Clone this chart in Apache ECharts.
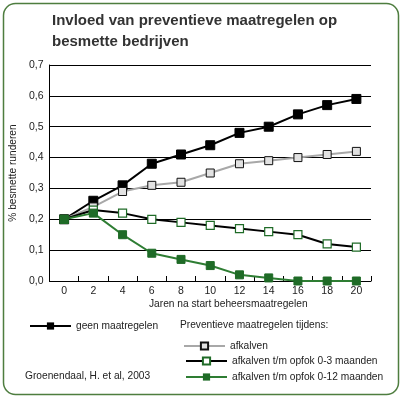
<!DOCTYPE html>
<html><head><meta charset="utf-8">
<script src="https://cdn.jsdelivr.net/npm/echarts@6/dist/echarts.min.js"></script>
<style>html,body{margin:0;padding:0;background:#fff}#c{width:407px;height:399px}</style>
</head><body><div id="c"></div>
<script>
var years = ['0','2','4','6','8','10','12','14','16','18','20'];
var geenMaatregelen = [0.20,0.26,0.31,0.38,0.41,0.44,0.48,0.50,0.54,0.57,0.59];
var afkalven = [0.20,0.24,0.29,0.31,0.32,0.35,0.38,0.39,0.40,0.41,0.42];
var opfok03 = [0.20,0.23,0.22,0.20,0.19,0.18,0.17,0.16,0.15,0.12,0.11];
var opfok012 = [0.20,0.22,0.15,0.09,0.07,0.05,0.02,0.01,0.00,0.00,0.00];
var names = ['geen maatregelen','afkalven','afkalven t/m opfok 0-3 maanden','afkalven t/m opfok 0-12 maanden'];

var FF = 'Liberation Sans';
var FS = 10.2;
var GREEN = '#1f6b27';
var chart = echarts.init(document.getElementById('c'), null, {renderer:'canvas'});
var legendText = {fontFamily: FF, fontSize: FS, color: '#222'};
function leg(name, left, top) {
  return {data:[name], left:left, top:top, orient:'horizontal', itemWidth:41, itemHeight:9, itemGap:5,
    textStyle: legendText, selectedMode:false, padding:0};
}
chart.setOption({
  animation:false,
  textStyle:{fontFamily:FF},
  title:{text:'Invloed van preventieve maatregelen op\nbesmette bedrijven', left:47, top:5,
    textStyle:{fontFamily:FF, fontSize:15, fontWeight:'bold', color:'#333', lineHeight:21}},
  grid:{left:49, right:36, top:65, bottom:118},
  legend:[leg(names[0],29,321), leg(names[1],183,341), leg(names[2],185,356), leg(names[3],185,372)],
  graphic:[
    {type:'rect', shape:{x:3.5,y:3.5,width:395,height:391,r:12}, style:{fill:null, stroke:'#4e7d3f', lineWidth:1.5}, silent:true},
    {type:'text', left:180, top:320, style:{text:'Preventieve maatregelen tijdens:', font:FS+'px '+FF, fill:'#222'}},
    {type:'text', left:25, top:371, style:{text:'Groenendaal, H. et al, 2003', font:FS+'px '+FF, fill:'#222'}},
    {type:'text', left:149, top:299, style:{text:'Jaren na start beheersmaatregelen', font:FS+'px '+FF, fill:'#222'}}
  ],
  xAxis:{type:'category', data:years, boundaryGap:true,
    axisLine:{lineStyle:{color:'#000', width:1}},
    axisTick:{show:true, inside:true, length:5, lineStyle:{color:'#000'}},
    axisLabel:{color:'#222', fontSize:10.5, margin:5, fontFamily:FF}},
  yAxis:{type:'value', min:0, max:0.7, interval:0.1,
    name:'% besmette runderen', nameLocation:'middle', nameGap:24, nameRotate:90,
    nameTextStyle:{fontFamily:FF, fontSize:FS, color:'#222'},
    axisLine:{show:true, lineStyle:{color:'#000', width:1}},
    axisTick:{show:false},
    splitLine:{lineStyle:{color:'#000', width:1}},
    axisLabel:{color:'#222', fontSize:10.5, margin:6, fontFamily:FF,
      formatter:function(v){return v.toFixed(1).replace('.',',');}}},
  series:[
    {name:names[0], type:'line', data:geenMaatregelen, symbol:'rect', symbolSize:9,
      lineStyle:{color:'#000', width:2}, itemStyle:{color:'#000', borderColor:'#000'}},
    {name:names[1], type:'line', data:afkalven, symbol:'rect', symbolSize:8,
      lineStyle:{color:'#a8a8a8', width:2}, itemStyle:{color:'#e2e2e2', borderColor:'#111', borderWidth:1}},
    {name:names[2], type:'line', data:opfok03, symbol:'rect', symbolSize:8,
      lineStyle:{color:'#000', width:2}, itemStyle:{color:'#fff', borderColor:GREEN, borderWidth:1.2}},
    {name:names[3], type:'line', data:opfok012, symbol:'rect', symbolSize:8,
      lineStyle:{color:'#2e7d33', width:2}, itemStyle:{color:GREEN, borderColor:GREEN}}
  ]
});
</script></body></html>
